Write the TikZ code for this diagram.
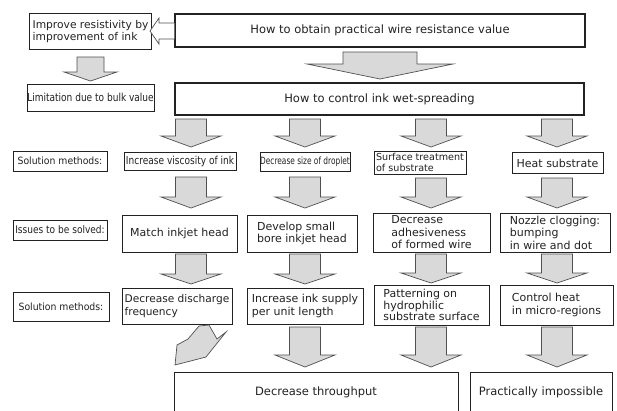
\documentclass[tikz,border=0pt]{standalone}
\usepackage{fontspec}
\setmainfont{DejaVu Sans}
\newfontfamily\labfont[FakeStretch=0.93]{DejaVu Sans}
\newfontfamily\issfont[FakeStretch=0.86]{DejaVu Sans}
\newfontfamily\condfont[FakeStretch=0.82]{DejaVu Sans}
\newfontfamily\narrowfont[FakeStretch=0.74]{DejaVu Sans}
\definecolor{ink}{HTML}{222222}
\definecolor{arrowfill}{HTML}{D9D9D9}
\definecolor{arrowline}{HTML}{505050}
\tikzset{
  box/.style={draw=ink, line width=0.8pt, fill=white, inner sep=0pt, text=ink, align=left},
  thickbox/.style={box, line width=1.3pt},
  dbox/.style={box, line width=1pt,
    append after command={
      [draw=ink!80, line width=0.5pt]
      ([shift={(-2pt,2pt)}]\tikzlastnode.north west) rectangle ([shift={(2pt,-2pt)}]\tikzlastnode.south east)}},
  txt/.style={font=\fontsize{11}{12.5}\selectfont},
  barrow/.style={draw=arrowline, fill=arrowfill, line width=0.7pt, line join=miter},
  harrow/.style={draw=arrowline, fill=white, line width=0.7pt, line join=miter},
}
% x, ytop, ytip, bodyhalf, headhalf, headlen
\newcommand{\bdown}[6]{\draw[barrow] (#1-#4,#2) -- (#1+#4,#2) -- (#1+#4,#3-#6) -- (#1+#5,#3-#6) -- (#1,#3) -- (#1-#5,#3-#6) -- (#1-#4,#3-#6) -- cycle;}
\begin{document}
\begin{tikzpicture}[x=1pt,y=-1pt]
\path[use as bounding box] (0,0) rectangle (617,410);
\clip (0,0) rectangle (617,410);

% top level
\node[thickbox, minimum width=410pt, minimum height=33pt, font=\fontsize{11.5}{13}\selectfont] (top) at (380,30.5) {How to obtain practical wire resistance value};
\node[dbox, minimum width=122pt, minimum height=36pt, font=\fontsize{10.7}{12.5}\selectfont] (improve) at (90.5,31.5) {Improve resistivity by\\improvement of ink};
\draw[harrow] (top.west |- 0,23) -- (159,23) -- (159,18) -- (150,31) -- (159,44) -- (159,39) -- (top.west |- 0,39);

\node[box, minimum width=127pt, minimum height=27pt, font=\condfont\fontsize{11}{13}\selectfont] (limit) at (90.5,97.5) {Limitation due to bulk value};
\node[thickbox, minimum width=409pt, minimum height=32pt, font=\fontsize{11.5}{13}\selectfont] (ws) at (379.5,99) {How to control ink wet-spreading};

\bdown{380}{52}{79}{37}{73}{15}
\bdown{90.5}{57}{81}{13.5}{26.5}{9}

% row labels
\node[box, minimum width=94pt, minimum height=20pt, font=\labfont\fontsize{10}{12}\selectfont] (lab1) at (60,161) {Solution methods:};
\node[box, minimum width=94pt, minimum height=20pt, font=\issfont\fontsize{10.5}{12}\selectfont] (lab2) at (60,230) {Issues to be solved:};
\node[box, minimum width=96pt, minimum height=29pt, font=\labfont\fontsize{10}{12}\selectfont] (lab3) at (61,306.5) {Solution methods:};

% solution methods row 1
\node[dbox, minimum width=112pt, minimum height=18pt, font=\condfont\fontsize{11}{12}\selectfont] (s1) at (180,161.5) {Increase viscosity of ink};
\node[dbox, minimum width=90pt, minimum height=19pt, font=\narrowfont\fontsize{10}{12}\selectfont] (s2) at (305,162) {Decrease size of droplet};
\node[dbox, minimum width=92pt, minimum height=23pt, font=\fontsize{9.6}{10.5}\selectfont] (s3) at (420,162.5) {Surface treatment\\of substrate};
\node[dbox, minimum width=91pt, minimum height=21pt, font=\fontsize{11}{12}\selectfont] (s4) at (557.5,163) {Heat substrate};

\bdown{191}{119}{147}{15.5}{30}{11}
\bdown{305}{119}{147}{15.5}{30}{11}
\bdown{431}{119}{147}{15.5}{30}{11}
\bdown{557}{119}{147}{15.5}{30}{11}

% issues
\node[box, txt, minimum width=115pt, minimum height=37pt] (i1) at (179.5,233.5) {Match inkjet head};
\node[box, txt, minimum width=110pt, minimum height=37pt] (i2) at (302,233.5) {Develop small\\bore inkjet head};
\node[box, txt, minimum width=117pt, minimum height=39pt] (i3) at (431.5,232.5) {Decrease\\adhesiveness\\of formed wire};
\node[box, txt, minimum width=110pt, minimum height=39pt] (i4) at (555,232.5) {Nozzle clogging:\\bumping\\in wire and dot};

\bdown{191}{177}{208}{15.5}{30}{11}
\bdown{305}{177}{208}{15.5}{30}{11}
\bdown{431}{178}{208}{15.5}{30}{11}
\bdown{557}{178}{208}{15.5}{30}{11}

% solution methods row 2
\node[box, minimum width=110pt, minimum height=36pt, font=\fontsize{10.6}{12.5}\selectfont] (m1) at (177,306) {Decrease discharge\\frequency};
\node[box, txt, minimum width=116pt, minimum height=36pt] (m2) at (305,306) {Increase ink supply\\per unit length};
\node[box, minimum width=115pt, minimum height=40pt, font=\fontsize{11}{11.8}\selectfont] (m3) at (431.5,305) {Patterning on\\hydrophilic\\substrate surface};
\node[box, txt, minimum width=113pt, minimum height=40pt] (m4) at (556.5,305) {Control heat\\in micro-regions};

\bdown{191}{254}{284}{15.5}{30}{10}
\bdown{305}{254}{284}{15.5}{30}{10}
\bdown{431}{254}{283}{15.5}{30}{10}
\bdown{557}{254}{283}{15.5}{30}{10}

% diagonal arrow
\draw[barrow] (199,326) -- (209,325) -- (217,339) -- (226,332) -- (206,357) -- (175,365) -- (177,345) -- (188,339) -- cycle;

\bdown{305}{327}{367}{15.5}{30}{12}
\bdown{431}{327}{367}{15.5}{30}{12}
\bdown{557}{327}{367}{15.5}{30}{12}

% results
\node[box, minimum width=284pt, minimum height=40pt, font=\fontsize{11.5}{13}\selectfont] (b1) at (316,392) {Decrease throughput};
\node[box, minimum width=142pt, minimum height=40pt, font=\fontsize{11.5}{13}\selectfont] (b2) at (541,392) {Practically impossible};
\end{tikzpicture}
\end{document}
